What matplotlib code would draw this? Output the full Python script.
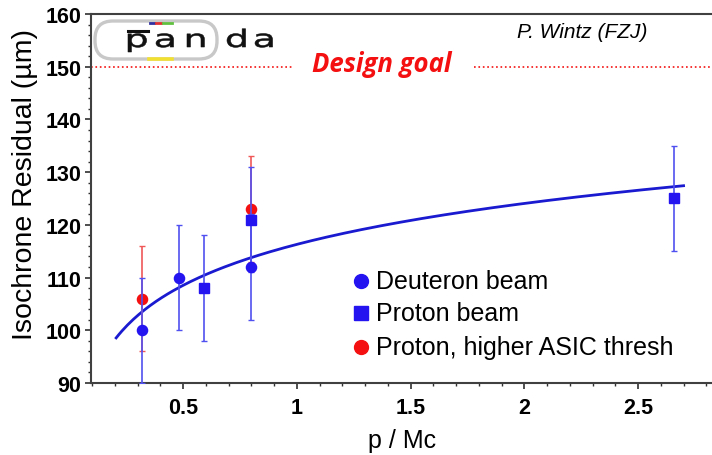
import numpy as np
import matplotlib.pyplot as plt
from matplotlib.patches import FancyBboxPatch, PathPatch
from matplotlib.textpath import TextPath
from matplotlib.font_manager import FontProperties
from matplotlib.transforms import Affine2D
from matplotlib.ticker import MultipleLocator

# deuteron beam
deut_p = [0.32, 0.48, 0.80]
deut_res = [100, 110, 112]
deut_err = [10, 10, 10]

# proton beam
prot_p = [0.59, 0.80, 2.66]
prot_res = [108, 121, 125]
prot_err = [10, 10, 10]

# proton beam, higher ASIC threshold
thr_p = [0.32, 0.80]
thr_res = [106, 123]
thr_err = [10, 10]

# log fit: res = a + b * ln(p)
fit_a, fit_b = 116.3, 11.2
fit_range = (0.205, 2.70)

design_goal = 150

blue = '#2414f0'
red = '#f41010'
font = ['Liberation Sans', 'DejaVu Sans']

fig = plt.figure(figsize=(7.12, 4.56), dpi=100)
ax = fig.add_axes([0.128, 0.158, 0.872, 0.809])

p = np.linspace(fit_range[0], fit_range[1], 200)
ax.plot(p, fit_a + fit_b * np.log(p), color='#1a1ad0', lw=2)

ax.errorbar(thr_p, thr_res, yerr=thr_err, fmt='o', color=red, ms=7.3,
            ecolor='#f05858', elinewidth=1.2, capsize=2.5, zorder=3)
ax.errorbar(deut_p, deut_res, yerr=deut_err, fmt='o', color=blue, ms=7.3,
            ecolor='#5050f0', elinewidth=1.2, capsize=2.5, zorder=4)
ax.errorbar(prot_p, prot_res, yerr=prot_err, fmt='s', color=blue, ms=6.8,
            ecolor='#5050f0', elinewidth=1.2, capsize=2.5, zorder=4)

# design goal line with label in the gap
ax.plot([0.095, 0.98], [design_goal, design_goal], ls=':', color=red, lw=1.2)
ax.plot([1.78, 2.83], [design_goal, design_goal], ls=':', color=red, lw=1.2)
ax.text(1.375, design_goal + 0.7, 'Design goal', color=red, fontsize=18.5, fontweight='bold',
        fontstyle='italic', ha='center', va='center', family=['Open Sans', 'DejaVu Sans'])

ax.text(1.968, 156.7, 'P. Wintz (FZJ)', fontsize=15, fontstyle='italic',
        ha='left', va='center', family=font)

# legend
leg_x = 1.282
leg_items = [('o', blue, 'Deuteron beam', 109.4),
             ('s', blue, 'Proton beam', 103.2),
             ('o', red, 'Proton, higher ASIC thresh', 96.9)]
for m, c, label, yy in leg_items:
    ax.plot(leg_x, yy, marker=m, color=c, ms=10 if m == 'o' else 9.5)
    ax.text(leg_x + 0.066, yy, label, fontsize=18, va='center', ha='left', family=font)

ax.set_xlim(0.095, 2.825)
ax.set_ylim(90, 160)
ax.xaxis.set_major_locator(MultipleLocator(0.5))
ax.xaxis.set_minor_locator(MultipleLocator(0.1))
ax.yaxis.set_major_locator(MultipleLocator(10))
ax.yaxis.set_minor_locator(MultipleLocator(2))
ax.set_xticks([0.5, 1, 1.5, 2, 2.5])
ax.set_xticklabels(['0.5', '1', '1.5', '2', '2.5'])

for lab in ax.get_xticklabels() + ax.get_yticklabels():
    lab.set_fontweight('bold')
    lab.set_fontsize(15.5)
    lab.set_family(font)

ax.tick_params(which='major', length=4, width=1.2, colors='#303030')
ax.tick_params(which='minor', length=2.5, width=1, colors='#303030')
ax.tick_params(axis='y', pad=3)
ax.tick_params(axis='x', pad=6)
ax.tick_params(labelcolor='black')
for s in ['left', 'bottom', 'top']:
    ax.spines[s].set_color('#404040')
    ax.spines[s].set_linewidth(1.5)
ax.spines['right'].set_visible(False)

ax.set_xlabel('p / Mc', fontsize=18, family=font, labelpad=7)
ax.set_ylabel('Isochrone Residual (µm)', fontsize=20.5, family=font)
ax.yaxis.set_label_coords(-0.085, 0.54)

# panda logo, drawn on an overlay in pixel units
logo = fig.add_axes([0, 0, 1, 1], facecolor='none')
logo.set_xlim(0, 712)
logo.set_ylim(456, 0)
logo.axis('off')
logo.add_patch(FancyBboxPatch((95, 22), 122, 38, boxstyle='round,pad=0,rounding_size=18',
                              fc='none', ec='#c8c8c8', lw=2.4))

# wide, flat letters: glyph outlines stretched sideways
fp = FontProperties(family='DejaVu Sans')
for ch, left in zip('panda', [128, 156, 187, 227, 255]):
    tp = TextPath((0, 0), ch, size=1, prop=fp)
    x0 = tp.get_extents().x0
    tr = Affine2D().translate(-x0, 0).scale(38, -24).translate(left, 48)
    logo.add_patch(PathPatch(tr.transform_path(tp), fc='#111111', ec='#111111', lw=0.4))
logo.plot([128, 148], [32, 32], color='#111111', lw=2.2)
logo.plot([150, 154], [24, 24], color='#3030a0', lw=2)
logo.plot([156, 161], [24, 24], color='#e03030', lw=2)
logo.plot([163, 172], [24, 24], color='#60c040', lw=2)
logo.plot([149, 172], [59.5, 59.5], color='#f2e030', lw=2.6)

fig.savefig('out.png', dpi=100)
